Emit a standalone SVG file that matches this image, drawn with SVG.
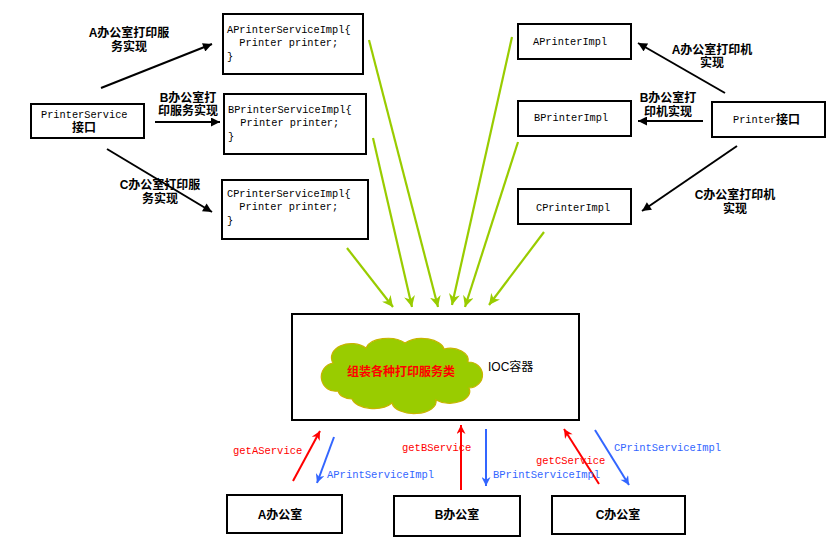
<svg xmlns="http://www.w3.org/2000/svg" width="840" height="553" viewBox="0 0 840 553">
<defs>
<style>
.box{fill:#fff;stroke:#000;stroke-width:2}
.mono{font-family:"Liberation Mono","DejaVu Sans Mono",monospace;font-size:10.3px;fill:#000;dominant-baseline:central}
.cn{font-family:"Liberation Sans","Noto Sans CJK SC",sans-serif;font-size:12px;font-weight:bold;fill:#000;dominant-baseline:central;text-anchor:middle}
.blk{stroke:#000;stroke-width:2;fill:none}
.grn{stroke:#99cc00;stroke-width:2.2;fill:none}
.red{stroke:#ff0000;stroke-width:2;fill:none}
.blu{stroke:#3366ff;stroke-width:2;fill:none}
.rt{font-family:"Liberation Mono","DejaVu Sans Mono",monospace;font-size:10.5px;fill:#ff0000;dominant-baseline:central}
.bt{font-family:"Liberation Mono","DejaVu Sans Mono",monospace;font-size:10.5px;fill:#3366ff;dominant-baseline:central}
</style>
<marker id="ab" viewBox="0 0 10 10" refX="10" refY="5" markerWidth="10" markerHeight="9" markerUnits="userSpaceOnUse" orient="auto"><path d="M0,0 L10,5 L0,10 z" fill="#000"/></marker>
<marker id="ag" viewBox="0 0 10 10" refX="10" refY="5" markerWidth="11" markerHeight="11" markerUnits="userSpaceOnUse" orient="auto"><path d="M0,0 L10,5 L0,10 L3,5 z" fill="#99cc00"/></marker>
<marker id="ar" viewBox="0 0 10 10" refX="10" refY="5" markerWidth="11" markerHeight="9" markerUnits="userSpaceOnUse" orient="auto"><path d="M0,0 L10,5 L0,10 L3,5 z" fill="#ff0000"/></marker>
<marker id="au" viewBox="0 0 10 10" refX="10" refY="5" markerWidth="11" markerHeight="9" markerUnits="userSpaceOnUse" orient="auto"><path d="M0,0 L10,5 L0,10 L3,5 z" fill="#3366ff"/></marker>
</defs>
<rect width="840" height="553" fill="#fff"/>

<g id="connectors">
<line class="blk" x1="101" y1="88" x2="212" y2="44" marker-end="url(#ab)"/>
<line class="blk" x1="155" y1="122" x2="220" y2="122" marker-end="url(#ab)"/>
<line class="blk" x1="107" y1="149" x2="212" y2="212" marker-end="url(#ab)"/>
<line class="blk" x1="725" y1="93" x2="638" y2="43" marker-end="url(#ab)"/>
<line class="blk" x1="703" y1="121" x2="638" y2="121" marker-end="url(#ab)"/>
<line class="blk" x1="737" y1="146" x2="642" y2="211" marker-end="url(#ab)"/>

<line class="grn" x1="347" y1="248" x2="393" y2="307" marker-end="url(#ag)"/>
<line class="grn" x1="373" y1="138" x2="412" y2="307" marker-end="url(#ag)"/>
<line class="grn" x1="369" y1="40" x2="438" y2="307" marker-end="url(#ag)"/>
<line class="grn" x1="512" y1="37" x2="452" y2="305" marker-end="url(#ag)"/>
<line class="grn" x1="518" y1="142" x2="465" y2="307" marker-end="url(#ag)"/>
<line class="grn" x1="544" y1="232" x2="489" y2="305" marker-end="url(#ag)"/>

<line class="red" x1="293" y1="481" x2="320" y2="431" marker-end="url(#ar)"/>
<line class="blu" x1="334" y1="437" x2="317" y2="483" marker-end="url(#au)"/>
<line class="red" x1="461" y1="490" x2="461" y2="425" marker-end="url(#ar)"/>
<line class="blu" x1="486" y1="429" x2="486" y2="486" marker-end="url(#au)"/>
<line class="red" x1="599" y1="484" x2="564" y2="429" marker-end="url(#ar)"/>
<line class="blu" x1="595" y1="430" x2="629" y2="485" marker-end="url(#au)"/>

<text class="cn"><tspan x="129" y="33">A办公室打印服</tspan><tspan x="129" y="47">务实现</tspan></text>
<text class="cn"><tspan x="188" y="98">B办公室打</tspan><tspan x="188" y="111">印服务实现</tspan></text>
<text class="cn"><tspan x="160" y="185">C办公室打印服</tspan><tspan x="160" y="199">务实现</tspan></text>
<text class="cn"><tspan x="712" y="50">A办公室打印机</tspan><tspan x="712" y="63">实现</tspan></text>
<text class="cn"><tspan x="668" y="98">B办公室打</tspan><tspan x="668" y="112">印机实现</tspan></text>
<text class="cn"><tspan x="735" y="195">C办公室打印机</tspan><tspan x="735" y="209">实现</tspan></text>

<text class="rt" x="233" y="451">getAService</text>
<text class="bt" x="327" y="475">APrintServiceImpl</text>
<text class="rt" x="402" y="448">getBService</text>
<text class="bt" x="493" y="475">BPrintServiceImpl</text>
<text class="rt" x="536" y="461">getCService</text>
<text class="bt" x="614" y="448">CPrintServiceImpl</text>
</g>

<g id="printerService">
<rect class="box" x="31" y="104" width="113" height="34"/>
<text class="mono" x="41" y="115">PrinterService</text>
<text class="cn" x="84" y="128">接口</text>
</g>

<g id="aPrinterServiceImpl">
<rect class="box" x="223" y="14" width="140" height="60"/>
<text class="mono" x="227" y="30" xml:space="preserve">APrinterServiceImpl{</text>
<text class="mono" x="227" y="43" xml:space="preserve">  Printer printer;</text>
<text class="mono" x="227" y="57">}</text>
</g>
<g id="bPrinterServiceImpl">
<rect class="box" x="224" y="94" width="142" height="60"/>
<text class="mono" x="228" y="110" xml:space="preserve">BPrinterServiceImpl{</text>
<text class="mono" x="228" y="123" xml:space="preserve">  Printer printer;</text>
<text class="mono" x="228" y="137">}</text>
</g>
<g id="cPrinterServiceImpl">
<rect class="box" x="222" y="180" width="146" height="59"/>
<text class="mono" x="227" y="194" xml:space="preserve">CPrinterServiceImpl{</text>
<text class="mono" x="227" y="207" xml:space="preserve">  Printer printer;</text>
<text class="mono" x="227" y="221">}</text>
</g>

<g id="aPrinterImpl">
<rect class="box" x="518" y="24" width="113" height="35"/>
<text class="mono" x="533" y="42">APrinterImpl</text>
</g>
<g id="bPrinterImpl">
<rect class="box" x="518" y="101" width="113" height="35"/>
<text class="mono" x="534" y="118">BPrinterImpl</text>
</g>
<g id="cPrinterImpl">
<rect class="box" x="518" y="189" width="113" height="35"/>
<text class="mono" x="536" y="208">CPrinterImpl</text>
</g>
<g id="printerInterface">
<rect class="box" x="712" y="102" width="113" height="35"/>
<text class="mono" x="733" y="120">Printer</text>
<text class="cn" x="788" y="120">接口</text>
</g>

<g id="iocContainer">
<rect class="box" x="292" y="314" width="287" height="106"/>
<path d="M338,391 A14,14 0 0 1 333,363 A20,14 0 0 1 366,348 A22,12 0 0 1 405,343 A22,12 0 0 1 444,349 A18,12 0 0 1 468,362 A14,13 0 0 1 469,388 A20,12 0 0 1 436,400 A22,12 0 0 1 392,403 A22,12 0 0 1 352,399 A14,10 0 0 1 338,391 Z" fill="#99cc00" stroke="#c8b400" stroke-width="1.2"/>
<text class="cn" x="401" y="372" style="fill:#ff0000">组装各种打印服务类</text>
<text x="488" y="367" style="font-family:'Liberation Sans','Noto Sans CJK SC',sans-serif;font-size:12px;dominant-baseline:central">IOC容器</text>
</g>

<g id="aOffice">
<rect class="box" x="227" y="495" width="115" height="38"/>
<text class="cn" x="280" y="515">A办公室</text>
</g>
<g id="bOffice">
<rect class="box" x="394" y="496" width="126" height="40"/>
<text class="cn" x="457" y="515">B办公室</text>
</g>
<g id="cOffice">
<rect class="box" x="552" y="496" width="133" height="38"/>
<text class="cn" x="618" y="515">C办公室</text>
</g>
</svg>
